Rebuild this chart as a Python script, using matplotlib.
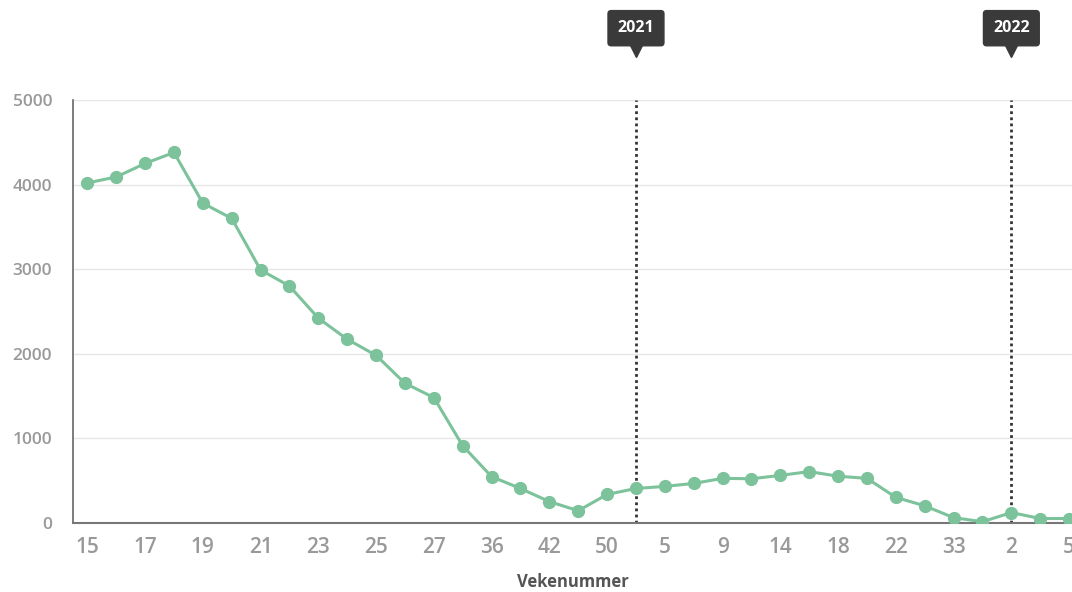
import numpy as np
import matplotlib.pyplot as plt
from matplotlib import transforms

plt.rcParams['font.family'] = ['Open Sans', 'DejaVu Sans']

# weeks (every other label shown on axis)
weeks = ['15', '16', '17', '18', '19', '20', '21', '22', '23', '24', '25', '26',
         '27', '30', '36', '39', '42', '46', '50', '1', '5', '7', '9', '12',
         '14', '16', '18', '20', '22', '27', '33', '44', '2', '3', '5']
values = [4020, 4090, 4250, 4380, 3780, 3600, 2990, 2800, 2420, 2170, 1980, 1650,
          1480, 910, 545, 405, 250, 142, 335, 405, 430, 465, 525, 520,
          560, 605, 550, 525, 300, 200, 60, 12, 120, 50, 50]
year_marks = [('2021', 19), ('2022', 32)]

line_color = '#7cc29a'

fig = plt.figure(figsize=(10.72, 5.92), dpi=100)
ax = fig.add_axes([0.068, 0.117, 0.932, 0.714])

x = np.arange(len(weeks))
ax.plot(x, values, color=line_color, lw=2.2, marker='o', ms=8.5, zorder=3)

ax.set_xlim(-0.5, 34.1)
ax.set_ylim(0, 5000)
ax.set_yticks([0, 1000, 2000, 3000, 4000, 5000])
ax.set_xticks(x[::2])
ax.set_xticklabels(weeks[::2])

ax.tick_params(axis='both', length=0)
ax.tick_params(axis='x', labelsize=15, labelcolor='#999999', pad=10)
ax.tick_params(axis='y', labelsize=12.5, labelcolor='#999999', pad=15)
for lab in ax.get_xticklabels() + ax.get_yticklabels():
    lab.set_fontweight('semibold')

ax.grid(axis='y', color='#e6e6e6', lw=1)
ax.set_axisbelow(True)
for s in ['top', 'right']:
    ax.spines[s].set_visible(False)
ax.spines['left'].set_color('#666666')
ax.spines['bottom'].set_color('#777777')
ax.spines['left'].set_linewidth(1.2)
ax.spines['bottom'].set_linewidth(1.5)

ax.set_xlabel('Vekenummer', fontsize=12, fontweight='bold', color='#555555', labelpad=11)

trans = transforms.blended_transform_factory(ax.transData, ax.transAxes)
for label, idx in year_marks:
    ax.axvline(idx, color='#333333', lw=2, ls=(0, (1, 1.2)), zorder=2)
    ax.text(idx, 1.17, label, transform=trans, ha='center', va='center',
            color='white', fontsize=11.5, fontweight='bold',
            bbox=dict(boxstyle='round,pad=0.6,rounding_size=0.2',
                      fc='#3a3a3a', ec='#3a3a3a'), clip_on=False)
    ax.plot([idx], [1.117], transform=trans, marker='v', ms=8, color='#3a3a3a',
            clip_on=False)

fig.savefig('out.png', dpi=100)
